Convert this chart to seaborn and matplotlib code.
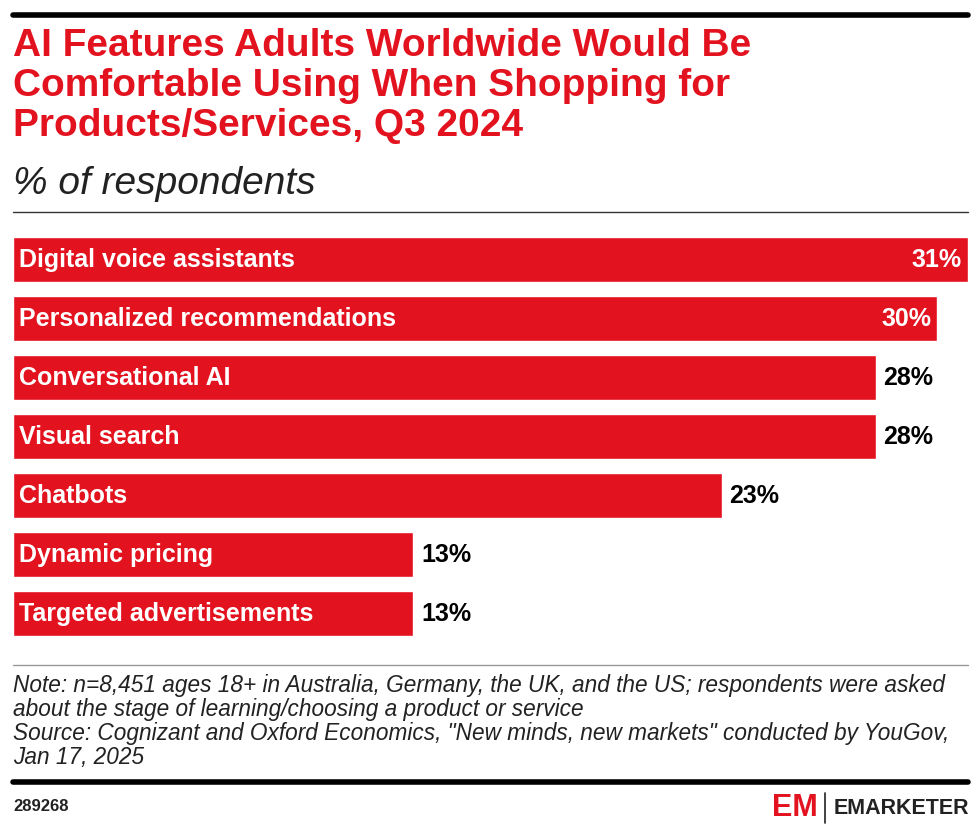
import matplotlib
matplotlib.use("Agg")
import matplotlib.pyplot as plt
import seaborn as sns
import pandas as pd

categories = ["Digital voice assistants", "Personalized recommendations", "Conversational AI",
              "Visual search", "Chatbots", "Dynamic pricing", "Targeted advertisements"]
values = [31, 30, 28, 28, 23, 13, 13]
df = pd.DataFrame({"feature": categories, "pct": values})

RED = "#E3121F"
sns.set_theme(style="white")
plt.rcParams['font.family'] = ['Liberation Sans', 'DejaVu Sans']

W, H = 980, 838
fig = plt.figure(figsize=(9.8, 8.38), dpi=100)

def fy(px):
    return 1 - px / H

ax = fig.add_axes([13 / W, fy(643), (968 - 13) / W, (643 - 230) / H])
sns.barplot(data=df, y="feature", x="pct", color=RED, width=0.75, ax=ax, saturation=1)
ax.set_xlim(0, 31)
ax.set_xlabel(""); ax.set_ylabel("")
ax.set_xticks([]); ax.set_yticks([])
for s in ax.spines.values():
    s.set_visible(False)
for i, (c, v) in enumerate(zip(categories, values)):
    ax.text(0.2, i, c, color="white", fontsize=18, fontweight="bold", va="center", ha="left")
    if v >= 30:
        ax.text(v - 0.2, i, f"{v}%", color="white", fontsize=18, fontweight="bold", va="center", ha="right")
    else:
        ax.text(v + 0.25, i, f"{v}%", color="black", fontsize=18, fontweight="bold", va="center", ha="left")

def hline(y, lw, color):
    fig.add_artist(plt.Line2D([13 / W, 968 / W], [fy(y), fy(y)], lw=lw, color=color))

hline(15, 4, "black")
hline(212, 1, "#333333")
hline(665, 1, "#999999")
hline(782, 4, "black")

fig.text(13 / W, fy(28), "AI Features Adults Worldwide Would Be\nComfortable Using When Shopping for\nProducts/Services, Q3 2024",
         color=RED, fontsize=28, fontweight="bold", va="top", ha="left", linespacing=1.15)
fig.text(13 / W, fy(184), "% of respondents", color="#222222", fontsize=28, style="italic", va="center", ha="left")
fig.text(13 / W, fy(674), "Note: n=8,451 ages 18+ in Australia, Germany, the UK, and the US; respondents were asked\n"
         "about the stage of learning/choosing a product or service\n"
         "Source: Cognizant and Oxford Economics, \"New minds, new markets\" conducted by YouGov,\n"
         "Jan 17, 2025", color="#222222", fontsize=16.3, style="italic", va="top", ha="left", linespacing=1.05)
fig.text(13 / W, fy(806), "289268", color="#222222", fontsize=12, fontweight="bold", va="center", ha="left")
fig.text(772 / W, fy(808), "EM", color=RED, fontsize=22, fontweight="bold", va="center", ha="left")
fig.add_artist(plt.Line2D([825 / W, 825 / W], [fy(793), fy(823)], lw=1.2, color="#222222"))
fig.text(834 / W, fy(808), "EMARKETER", color="#222222", fontsize=15.5, fontweight="bold", va="center", ha="left")

fig.savefig("out.png", dpi=100, facecolor="white")
